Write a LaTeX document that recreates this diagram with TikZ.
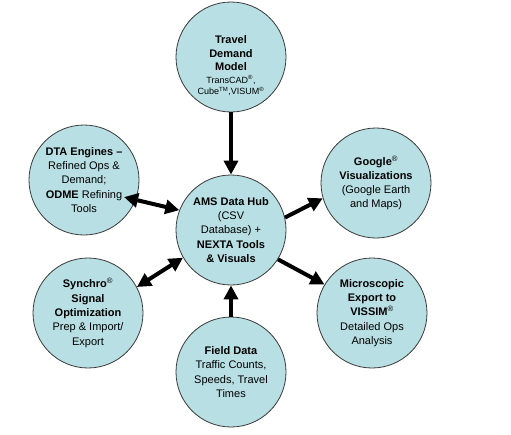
\documentclass[tikz,border=0pt]{standalone}
\usepackage{fontspec}
\setmainfont{Liberation Sans}
\usetikzlibrary{arrows.meta,calc}
\definecolor{bub}{HTML}{B8DFE3}
\definecolor{rim}{HTML}{3A3A3A}
\begin{document}
\begin{tikzpicture}[x=1pt,y=-1pt]
\tikzset{
  bubble/.style={circle, draw=rim, line width=0.8pt, fill=bub, minimum size=110pt, inner sep=0pt,
    align=center, font=\fontsize{11}{14.3}\selectfont},
  bubtext/.style={align=center, inner sep=0pt, font=\fontsize{11}{13.5}\selectfont},
  tip/.tip={Triangle[length=14pt,width=14pt]},
  conn/.style={line width=4pt, -tip},
  conntwo/.style={line width=4pt, tip-tip},
}
\useasboundingbox (0,0) rectangle (511,434);
\fill[white] (0,0) rectangle (511,434);

\node[bubble] (tdm) at (231,57) {};
\node[bubtext] (tdmtext) at (231,66) {\textbf{Travel}\\ \textbf{Demand}\\ \textbf{Model}\\[-1pt]
  {\fontsize{9}{11}\selectfont TransCAD\textsuperscript{®},}\\[-2pt]
  {\fontsize{9}{11}\selectfont Cube\textsuperscript{TM},VISUM\textsuperscript{®}}};

\node[bubble] (hub) at (231,230) {\textbf{AMS Data Hub}\\ (CSV\\ Database) +\\ \textbf{NEXTA Tools}\\ \textbf{\& Visuals}};

\node[bubble] (dta) at (84,180) {\textbf{DTA Engines –}\\ Refined Ops \&\\ Demand;\\ \textbf{ODME} Refining\\ Tools};

\node[bubble] (goo) at (376,183) {\textbf{Google}\textsuperscript{®}\\ \textbf{Visualizations}\\ (Google Earth\\ and Maps)};

\node[bubble] (syn) at (88,313) {\textbf{Synchro}\textsuperscript{®}\\ \textbf{Signal}\\ \textbf{Optimization}\\ Prep \& Import/\\ Export};

\node[bubble] (mic) at (372,313) {\textbf{Microscopic}\\ \textbf{Export to}\\ \textbf{VISSIM}\textsuperscript{®}\\ Detailed Ops\\ Analysis};

\node[bubble] (fld) at (231,372) {\textbf{Field Data}\\ Traffic Counts,\\ Speeds, Travel\\ Times};

\draw[conn] (tdm.south) -- (hub.north);
\draw[conntwo, shorten <=-12pt] (dta.-21) -- (hub.159);
\draw[conn] (hub.13) -- (goo.196);
\draw[conntwo] (syn.28) -- (hub.210);
\draw[conn] (hub.-32) -- (mic.149);
\draw[conn] (fld.north) -- (hub.south);
\end{tikzpicture}
\end{document}
